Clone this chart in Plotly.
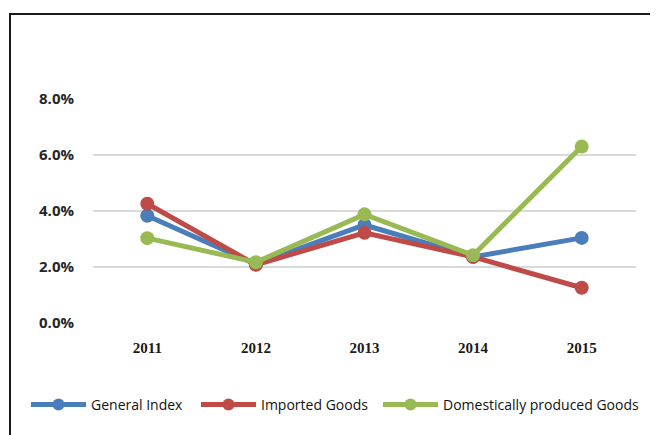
import plotly.graph_objects as go

years = ["2011", "2012", "2013", "2014", "2015"]
general_index = [3.83, 2.10, 3.50, 2.36, 3.04]
imported_goods = [4.26, 2.08, 3.22, 2.36, 1.26]
domestic_goods = [3.03, 2.17, 3.88, 2.42, 6.30]
tick_vals = [0, 2, 4, 6, 8]
tick_text = ["0.0%", "2.0%", "4.0%", "6.0%", "8.0%"]

series = [
    ("General Index", general_index, "#4a7ebb", "legend", 26),
    ("Imported Goods", imported_goods, "#be4b48", "legend2", 196),
    ("Domestically produced Goods", domestic_goods, "#98b954", "legend3", 378),
]

fig = go.Figure()
for name, vals, color, leg, _ in series:
    fig.add_trace(go.Scatter(
        x=years, y=vals, name=name, mode="lines+markers",
        line=dict(color=color, width=5),
        marker=dict(color=color, size=14),
        legend=leg,
    ))

# page has an 8px body margin; compensate so marks land where the reference has them
OFF = 8
W, H = 650, 427
L, R, T, B = 93 - OFF, 22, 99 - OFF, 112
pw, ph = W - L - R, H - T - B

def px_to_paper_x(px):
    return (px - OFF - L) / pw

def py_to_paper_y(py):
    return (H - B - (py - OFF)) / ph

fig.add_shape(type="rect", xref="paper", yref="paper",
              x0=px_to_paper_x(10), x1=px_to_paper_x(700),
              y0=py_to_paper_y(480), y1=py_to_paper_y(14),
              line=dict(color="#1a1a1a", width=2), fillcolor="rgba(0,0,0,0)", layer="below")

legend_layout = {}
for name, vals, color, leg, xpos in series:
    legend_layout[leg] = dict(
        orientation="h", xref="container", yref="container",
        x=(xpos - OFF) / W, xanchor="left", y=(H - (405 - OFF)) / H, yanchor="middle",
        font=dict(family="Open Sans", size=14, color="#111111"),
        itemwidth=55, itemsizing="constant", bgcolor="rgba(0,0,0,0)",
    )

fig.update_layout(
    width=W, height=H,
    margin=dict(l=L, r=R, t=T, b=B, autoexpand=False),
    paper_bgcolor="white", plot_bgcolor="white",
    showlegend=True,
    xaxis=dict(type="category", range=[-0.5, 4.5], showgrid=False, showline=False,
               ticks="", tickfont=dict(family="Liberation Serif", size=15, color="#1a1a1a", weight="bold"),
               ticklabelstandoff=14),
    yaxis=dict(range=[0, 8], tickvals=tick_vals, ticktext=tick_text, showgrid=True,
               gridcolor="#d9d9d9", gridwidth=1.5, zeroline=False, showline=False, ticks="",
               tickfont=dict(family="Open Sans", size=15, color="#262626", weight="bold"),
               ticklabelstandoff=18),
    **legend_layout,
)

fig.write_html("out.html")
